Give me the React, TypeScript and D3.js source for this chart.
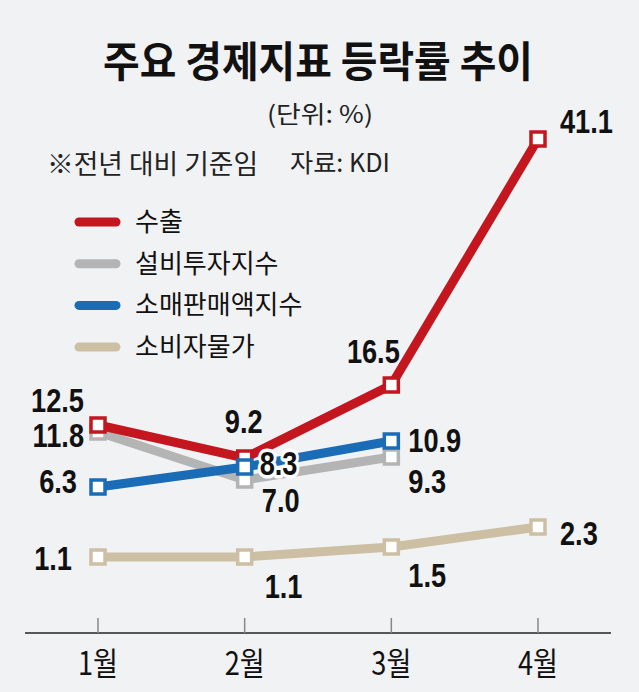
import React from 'react';
import * as d3 from 'd3';

const months = ['1월', '2월', '3월', '4월'];
const seriesNames = ['수출', '설비투자지수', '소매판매액지수', '소비자물가'];
const exportValues = [12.5, 9.2, 16.5, 41.1];
const equipmentValues = [11.8, 7.0, 9.3];
const retailValues = [6.3, 8.3, 10.9];
const cpiValues = [1.1, 1.1, 1.5, 2.3];
const valueLabels = {
  exports: ['12.5', '9.2', '16.5', '41.1'],
  equipment: ['11.8', '7.0', '9.3'],
  retail: ['6.3', '8.3', '10.9'],
  cpi: ['1.1', '1.1', '1.5', '2.3'],
};

const colors = ['#c3161f', '#b4b4b5', '#1b6cb6', '#ccbfa4'];

// label offsets (dx, dy, anchor) relative to each point
const offsets: Record<string, [number, number, string][]> = {
  exports: [[-14, -13, 'end'], [-1, -25, 'middle'], [-18, -22, 'middle'], [22, -6, 'start']],
  equipment: [[-14, 15, 'end'], [36, 32, 'middle'], [17, 36, 'start']],
  retail: [[-21, 6, 'end'], [15, 8, 'start'], [17, 11, 'start']],
  cpi: [[-26, 13, 'end'], [20, 41, 'start'], [17, 40, 'start'], [22, 18, 'start']],
};

const W = 639;
const H = 692;

export default function App() {
  const x = d3.scalePoint<string>().domain(months).range([98, 538]);
  const y = d3.scaleLinear().domain([1.1, 2.3, 41.1]).range([557, 527, 139]);
  const line = d3
    .line<number>()
    .x((_, i) => x(months[i]) as number)
    .y((d) => y(d));

  const series = [
    { key: 'cpi', values: cpiValues, color: colors[3] },
    { key: 'equipment', values: equipmentValues, color: colors[1] },
    { key: 'exports', values: exportValues, color: colors[0] },
    { key: 'retail', values: retailValues, color: colors[2] },
  ];

  const numFont = '"Liberation Sans", Arial, sans-serif';
  const krFont = '"Noto Sans CJK KR", "Noto Sans", sans-serif';
  const ms = 14;

  return (
    <svg width={W} height={H} style={{ position: 'absolute', left: 0, top: 0 }}>
      <rect x={0} y={0} width={W} height={H} fill="#f1f2f4" />
      <text x={103} y={77} fontFamily={krFont} fontWeight={700} fontSize={42} fill="#111"
        textLength={430} lengthAdjust="spacingAndGlyphs">주요 경제지표 등락률 추이</text>
      <text x={267} y={123} fontFamily={krFont} fontSize={24} fill="#222"
        textLength={106} lengthAdjust="spacingAndGlyphs">(단위: %)</text>
      <text x={47} y={174} fontFamily={krFont} fontSize={27} fill="#222"
        textLength={211} lengthAdjust="spacingAndGlyphs">※전년 대비 기준임</text>
      <text x={290} y={172} fontFamily={krFont} fontSize={25} fill="#222"
        textLength={100} lengthAdjust="spacingAndGlyphs">자료: KDI</text>

      {/* legend */}
      {seriesNames.map((name, i) => {
        const ly = 222 + i * 41.7;
        return (
          <g key={name}>
            <line x1={79} x2={116} y1={ly} y2={ly} stroke={colors[i]} strokeWidth={9} strokeLinecap="round" />
            <text x={135} y={ly + 9} fontFamily={krFont} fontSize={26} fill="#111">{name}</text>
          </g>
        );
      })}

      {/* axis */}
      <line x1={25} x2={611} y1={633} y2={633} stroke="#222" strokeWidth={1.5} />
      {months.map((m) => (
        <g key={m}>
          <line x1={x(m)} x2={x(m)} y1={618} y2={633} stroke="#888" strokeWidth={1.5} />
          <text x={(x(m) as number) - 20} y={675} fontFamily={krFont} fontSize={32} fill="#111"
            textLength={40} lengthAdjust="spacingAndGlyphs">{m}</text>
        </g>
      ))}

      {/* series */}
      {series.map((s) => (
        <g key={s.key}>
          <path d={line(s.values) as string} fill="none" stroke={s.color} strokeWidth={9} strokeLinejoin="miter" />
          {s.values.map((v, i) => (
            <rect key={i} x={(x(months[i]) as number) - ms / 2} y={y(v) - ms / 2} width={ms} height={ms}
              fill="#fff" stroke={s.color} strokeWidth={3.5} />
          ))}
        </g>
      ))}

      {/* value labels */}
      {series.map((s) =>
        s.values.map((v, i) => {
          const [dx, dy, anchor] = offsets[s.key][i];
          const halo = s.key === 'retail' && i === 1;
          const tx = (x(months[i]) as number) + dx;
          const ty = y(v) + dy;
          return (
            <text key={s.key + i} transform={`translate(${tx},${ty}) scale(0.8,1)`} textAnchor={anchor}
              fontFamily={numFont} fontWeight={700} fontSize={34} fill="#111"
              stroke={halo ? '#fff' : 'none'} strokeWidth={halo ? 7 : 0} paintOrder="stroke"
              strokeLinejoin="round">
              {(valueLabels as any)[s.key][i]}
            </text>
          );
        })
      )}
    </svg>
  );
}
